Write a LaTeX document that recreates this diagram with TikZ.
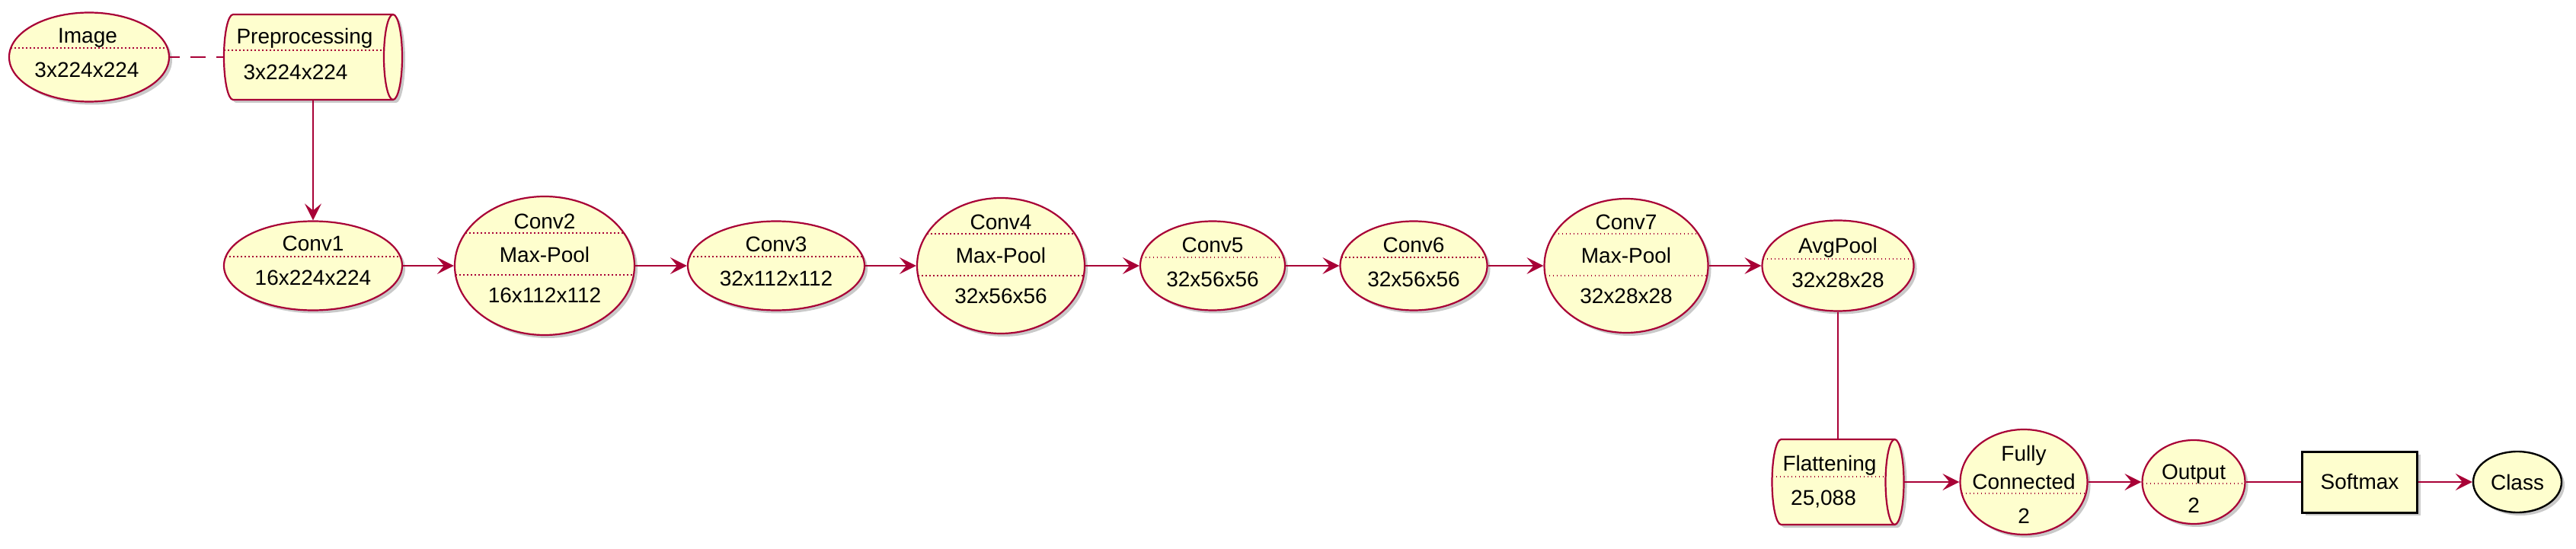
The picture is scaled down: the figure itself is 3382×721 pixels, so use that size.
\documentclass[tikz,border=0pt]{standalone}
\usepackage{fontspec}
\setmainfont{Liberation Sans}
\usetikzlibrary{calc}
\usetikzlibrary{shapes}
\usetikzlibrary{shadows}
\usetikzlibrary{arrows.meta}
\definecolor{umlred}{HTML}{A80036}
\definecolor{umlfill}{HTML}{FEFECE}
\tikzset{
  umlshadow/.style={drop shadow={shadow xshift=2pt,shadow yshift=-2pt,opacity=0.3,fill=black!70}},
  layer/.style={ellipse,draw=umlred,fill=umlfill,line width=1.1pt,inner sep=0pt,umlshadow},
  drumbox/.style={rectangle,draw=none,inner sep=0pt,outer sep=0pt},
  drum/.style={draw=umlred,fill=umlfill,line width=1.1pt,umlshadow},
  drumcap/.style={draw=umlred,line width=1.1pt},
  sepdot/.style={draw=umlred,line width=0.6pt,dash pattern=on 0.8pt off 1.7pt},
  lbltext/.style={anchor=base,inner sep=0pt},
  flow/.style={draw=umlred,line width=1pt,-{Stealth[length=11pt,width=11pt,inset=4.5pt]}},
  link/.style={draw=umlred,line width=1pt},
  softbox/.style={rectangle,draw=black,fill=umlfill,line width=1.5pt,minimum width=75.5pt,minimum height=40pt,umlshadow},
  classnode/.style={ellipse,draw=black,fill=umlfill,line width=1.2pt,minimum width=58pt,minimum height=40pt,inner sep=0pt,umlshadow}
}
\newcommand{\layerlbl}[5]{\node[lbltext] (#1) at ($(#2)+(#3,#4)$) {#5};}
\newcommand{\sepline}[4]{\draw[sepdot] ($(#1)+({-#2*sqrt(1-(#4/#3)^2)},#4)$) -- ($(#1)+({#2*sqrt(1-(#4/#3)^2)},#4)$);}
\newcommand{\drumshape}[1]{%
  \draw[drum] ($(#1.north west)+(12,0)$) -- ($(#1.north east)+(-12,0)$) arc[start angle=90,end angle=-90,x radius=6pt,y radius=28pt] -- ($(#1.south west)+(12,0)$) arc[start angle=270,end angle=90,x radius=6pt,y radius=28pt] -- cycle;
  \draw[drumcap] ($(#1.north east)+(-12,0)$) arc[start angle=90,end angle=270,x radius=6pt,y radius=28pt];}

\begin{document}
\begin{tikzpicture}[x=0.5pt,y=0.5pt,font=\fontsize{14pt}{17pt}\selectfont]
        \useasboundingbox (0,0) rectangle (3382,-721);
        %shapes
        \node[layer,minimum width=105pt,minimum height=58.5pt] (image) at (117,-75) {};
        \node[drumbox,minimum width=117pt,minimum height=56pt] (pre) at (411,-75) {};
        \drumshape{pre}
        \node[layer,minimum width=117pt,minimum height=58.5pt] (conv1) at (411,-349) {};
        \node[layer,minimum width=118pt,minimum height=91pt] (conv2) at (715,-349) {};
        \node[layer,minimum width=116pt,minimum height=58.5pt] (conv3) at (1019,-349) {};
        \node[layer,minimum width=110pt,minimum height=89pt] (conv4) at (1314,-349) {};
        \node[layer,minimum width=95pt,minimum height=58.5pt] (conv5) at (1592,-349) {};
        \node[layer,minimum width=96.5pt,minimum height=58.5pt] (conv6) at (1856,-349) {};
        \node[layer,minimum width=107.5pt,minimum height=88pt] (conv7) at (2135,-349) {};
        \node[layer,minimum width=99.5pt,minimum height=59.5pt] (avgpool) at (2413,-349) {};
        \node[drumbox,minimum width=86.5pt,minimum height=56pt] (flat) at (2413,-633) {};
        \drumshape{flat}
        \node[layer,minimum width=83.5pt,minimum height=69pt] (fc) at (2657,-633) {};
        \node[layer,minimum width=67.5pt,minimum height=55pt] (output) at (2880,-633) {};
        \node[softbox] (softmax) at (3098,-633) {Softmax};
        \node[classnode] (class) at (3305,-633) {Class};
        
        %separators
        \sepline{image}{105}{58.5}{12}
        \draw[sepdot] ($(pre.west)+(0,9)$) -- ($(pre.east)+(-24,9)$);
        \sepline{conv1}{117}{58.5}{12}
        \sepline{conv2}{118}{91}{43}
        \sepline{conv2}{118}{91}{-12}
        \sepline{conv3}{116}{58.5}{12}
        \sepline{conv4}{110}{89}{42}
        \sepline{conv4}{110}{89}{-13}
        \sepline{conv5}{95}{58.5}{11}
        \sepline{conv6}{96.5}{58.5}{11}
        \sepline{conv7}{107.5}{88}{42}
        \sepline{conv7}{107.5}{88}{-13}
        \sepline{avgpool}{99.5}{59.5}{9}
        \draw[sepdot] ($(flat.west)+(0,7)$) -- ($(flat.east)+(-24,7)$);
        \sepline{fc}{83.5}{69}{-15}
        \sepline{output}{67.5}{55}{-2}
        
        %labels
        \layerlbl{image-a}{image}{-2}{18}{Image}
        \layerlbl{image-b}{image}{-3}{-27}{3x224x224}
        \layerlbl{pre-a}{pre}{-11}{17}{Preprocessing}
        \layerlbl{pre-b}{pre}{-23}{-30}{3x224x224}
        \layerlbl{conv1-a}{conv1}{0}{19}{Conv1}
        \layerlbl{conv1-b}{conv1}{0}{-26}{16x224x224}
        \layerlbl{conv2-a}{conv2}{0}{48}{Conv2}
        \layerlbl{conv2-b}{conv2}{0}{4}{Max-Pool}
        \layerlbl{conv2-c}{conv2}{0}{-49}{16x112x112}
        \layerlbl{conv3-a}{conv3}{0}{18}{Conv3}
        \layerlbl{conv3-b}{conv3}{0}{-27}{32x112x112}
        \layerlbl{conv4-a}{conv4}{0}{47}{Conv4}
        \layerlbl{conv4-b}{conv4}{0}{3}{Max-Pool}
        \layerlbl{conv4-c}{conv4}{0}{-50}{32x56x56}
        \layerlbl{conv5-a}{conv5}{0}{17}{Conv5}
        \layerlbl{conv5-b}{conv5}{0}{-28}{32x56x56}
        \layerlbl{conv6-a}{conv6}{0}{17}{Conv6}
        \layerlbl{conv6-b}{conv6}{0}{-28}{32x56x56}
        \layerlbl{conv7-a}{conv7}{0}{47}{Conv7}
        \layerlbl{conv7-b}{conv7}{0}{3}{Max-Pool}
        \layerlbl{conv7-c}{conv7}{0}{-50}{32x28x28}
        \layerlbl{avgpool-a}{avgpool}{0}{16}{AvgPool}
        \layerlbl{avgpool-b}{avgpool}{0}{-29}{32x28x28}
        \layerlbl{flat-a}{flat}{-11}{15}{Flattening}
        \layerlbl{flat-b}{flat}{-19}{-30}{25,088}
        \layerlbl{fc-a}{fc}{0}{28}{Fully}
        \layerlbl{fc-b}{fc}{0}{-9}{Connected}
        \layerlbl{fc-c}{fc}{0}{-54}{2}
        \layerlbl{output-a}{output}{0}{4}{Output}
        \layerlbl{output-b}{output}{0}{-40}{2}
        
        %edges
        \draw[link,dash pattern=on 10pt off 7pt,dash phase=3.5pt] (image) -- (pre);
        \draw[flow] (pre) -- (conv1);
        \draw[flow] (conv1) -- (conv2);
        \draw[flow] (conv2) -- (conv3);
        \draw[flow] (conv3) -- (conv4);
        \draw[flow] (conv4) -- (conv5);
        \draw[flow] (conv5) -- (conv6);
        \draw[flow] (conv6) -- (conv7);
        \draw[flow] (conv7) -- (avgpool);
        \draw[link] (avgpool) -- (flat);
        \draw[flow] (flat) -- (fc);
        \draw[flow] (fc) -- (output);
        \draw[link] (output) -- (softmax);
        \draw[flow] (softmax) -- (class);
        
\end{tikzpicture}
\end{document}
